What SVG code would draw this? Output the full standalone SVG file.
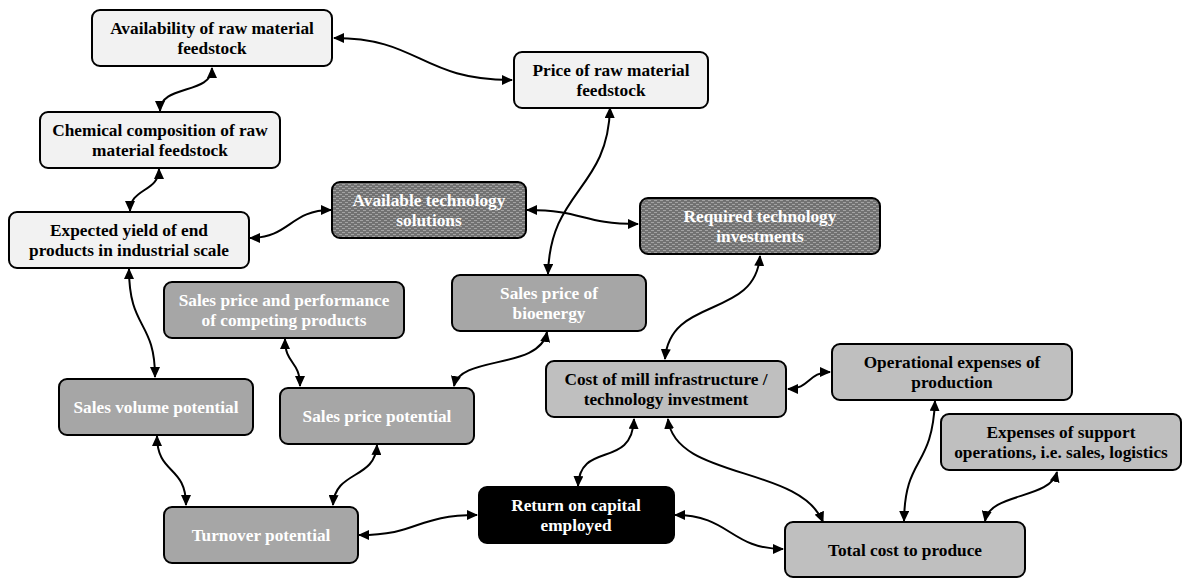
<svg xmlns="http://www.w3.org/2000/svg" width="1184" height="579" viewBox="0 0 1184 579">
<style>
.box{stroke:#000;stroke-width:2}
.light{fill:#f2f2f2}
.gray{fill:#a6a6a6}
.cost{fill:#bfbfbf}
.dark{fill:url(#hatch)}
.black{fill:#000}
text{font-family:"Liberation Serif","Times New Roman",serif;font-weight:bold;font-size:17.3px;text-anchor:middle}
.tb{fill:#000}
.tw{fill:#fff}
.conn path{fill:none;stroke:#000;stroke-width:2;marker-start:url(#ah);marker-end:url(#ah)}
</style>
<defs>
<pattern id="hatch" width="6" height="4" patternUnits="userSpaceOnUse">
<rect width="6" height="4" fill="#727272"/>
<rect x="0" y="0" width="3" height="1" fill="#a3a3a3"/>
<rect x="3" y="2" width="3" height="1" fill="#a3a3a3"/>
</pattern>
<marker id="ah" viewBox="0 0 11 10" refX="10" refY="5" markerWidth="11" markerHeight="10" markerUnits="userSpaceOnUse" orient="auto-start-reverse">
<path d="M0,0 L11,5 L0,10 z" fill="#000"/>
</marker>
</defs>
<rect width="1184" height="579" fill="#fff"/>
<g id="connectors" class="conn">
<path d="M334,38 C420,38 420,80 512,80"/>
<path d="M212,68 C212,95 160,84 160,111"/>
<path d="M159,169 C159,192 130,188 130,211"/>
<path d="M250,238 C290,238 290,210 331,210"/>
<path d="M527,210 C585,210 580,224 638,224"/>
<path d="M610,108 C608,190 550,190 548,274"/>
<path d="M760,256 C755,320 670,295 665,359"/>
<path d="M129,269 C129,330 155,320 155,377"/>
<path d="M285,339 C285,365 300,360 300,386"/>
<path d="M547,332 C540,370 460,355 454,386"/>
<path d="M157,436 C157,475 186,465 186,505"/>
<path d="M377,445 C375,480 335,470 333,505"/>
<path d="M359,535 C420,535 415,515 477,515"/>
<path d="M788,389 C810,389 808,372 830,372"/>
<path d="M634,419 C632,470 580,440 578,486"/>
<path d="M668,419 C675,480 800,465 823,522"/>
<path d="M935,401 C932,470 905,455 904,521"/>
<path d="M1057,472 C1050,500 990,492 985,521"/>
<path d="M675,515 C730,515 730,549 783,549"/>
</g>
<g id="n-availability"><rect class="box light" x="92" y="10" width="240" height="56" rx="8"/><text class="tb" x="212" y="34">Availability of raw material</text><text class="tb" x="212" y="54">feedstock</text></g>
<g id="n-price"><rect class="box light" x="514" y="52" width="194" height="56" rx="8"/><text class="tb" x="611" y="76">Price of raw material</text><text class="tb" x="611" y="96">feedstock</text></g>
<g id="n-chemical"><rect class="box light" x="40" y="112" width="240" height="56" rx="8"/><text class="tb" x="160" y="136">Chemical composition of raw</text><text class="tb" x="160" y="156">material feedstock</text></g>
<g id="n-availtech"><rect class="box dark" x="332" y="182" width="194" height="56" rx="8"/><text class="tw" x="429" y="206">Available technology</text><text class="tw" x="429" y="226">solutions</text></g>
<g id="n-required"><rect class="box dark" x="640" y="198" width="240" height="56" rx="8"/><text class="tw" x="760" y="222">Required technology</text><text class="tw" x="760" y="242">investments</text></g>
<g id="n-expected"><rect class="box light" x="9" y="212" width="240" height="56" rx="8"/><text class="tb" x="129" y="236">Expected yield of end</text><text class="tb" x="129" y="256">products in industrial scale</text></g>
<g id="n-competing"><rect class="box gray" x="164" y="282" width="240" height="56" rx="8"/><text class="tw" x="284" y="306">Sales price and performance</text><text class="tw" x="284" y="326">of competing products</text></g>
<g id="n-bioenergy"><rect class="box gray" x="452" y="275" width="194" height="56" rx="8"/><text class="tw" x="549" y="299">Sales price of</text><text class="tw" x="549" y="319">bioenergy</text></g>
<g id="n-costmill"><rect class="box cost" x="546" y="361" width="240" height="56" rx="8"/><text class="tb" x="666" y="385">Cost of mill infrastructure /</text><text class="tb" x="666" y="405">technology investment</text></g>
<g id="n-operational"><rect class="box cost" x="832" y="344" width="240" height="56" rx="8"/><text class="tb" x="952" y="368">Operational expenses of</text><text class="tb" x="952" y="388">production</text></g>
<g id="n-salesvolume"><rect class="box gray" x="59" y="379" width="194" height="56" rx="8"/><text class="tw" x="156" y="413">Sales volume potential</text></g>
<g id="n-salesprice"><rect class="box gray" x="280" y="388" width="194" height="56" rx="8"/><text class="tw" x="377" y="422">Sales price potential</text></g>
<g id="n-expenses"><rect class="box cost" x="941" y="414" width="240" height="56" rx="8"/><text class="tb" x="1061" y="438">Expenses of support</text><text class="tb" x="1061" y="458">operations, i.e. sales, logistics</text></g>
<g id="n-turnover"><rect class="box gray" x="164" y="507" width="194" height="56" rx="8"/><text class="tw" x="261" y="541">Turnover potential</text></g>
<g id="n-return"><rect class="box black" x="479" y="487" width="195" height="56" rx="8"/><text class="tw" x="576" y="511">Return on capital</text><text class="tw" x="576" y="531">employed</text></g>
<g id="n-totalcost"><rect class="box cost" x="785" y="522" width="240" height="55" rx="8"/><text class="tb" x="905" y="556">Total cost to produce</text></g>
</svg>
